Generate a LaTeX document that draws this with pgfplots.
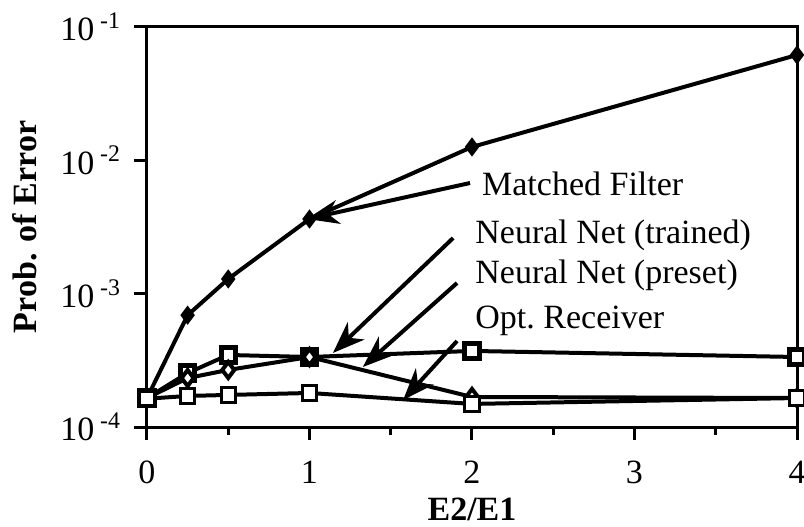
\documentclass[border=0pt]{standalone}
\usepackage{fontspec}
\setmainfont{Liberation Serif}
\usepackage{pgfplots}
\pgfplotsset{compat=1.18}
\usetikzlibrary{arrows.meta}
\begin{document}
\begin{tikzpicture}
\begin{axis}[
  name=ax,
  scale only axis, width=325pt, height=200pt,
  xmin=0, xmax=4, ymin=1e-4, ymax=1e-1, ymode=log,
  clip=false,
  axis line style={line width=1.5pt},
  tick style={line width=1.5pt, black},
  major tick length=6.5pt, minor tick length=4pt,
  tick align=outside,
  xtick pos=bottom, ytick pos=left,
  xtick={0,1,2,3,4}, minor xtick={0.5,1.5,2.5,3.5},
  ytick={1e-4,1e-3,1e-2,1e-1}, yminorticks=false,
  yticklabels={10\,\textsuperscript{-4},10\,\textsuperscript{-3},10\,\textsuperscript{-2},10\,\textsuperscript{-1}},
  xticklabels={0,1,2,3,4},
  ticklabel style={font=\fontsize{17}{19}\selectfont},
  yticklabel style={xshift=-3pt},
  xticklabel style={yshift=-7pt},
  xlabel={E2/E1}, ylabel={Prob. of Error},
  xlabel style={font=\fontsize{17}{19}\selectfont\bfseries, at={(axis description cs:0.5,0)}, anchor=base, yshift=-46.5pt},
  ylabel style={font=\fontsize{17}{19}\selectfont\bfseries, at={(axis description cs:-0.1877,0.5)}, anchor=center},
  every axis plot/.append style={line width=2pt, black},
]
% Matched filter
\addplot[mark=diamond*, mark size=4pt, mark options={fill=black, line width=1pt}] coordinates {
 (0,1.65e-4) (0.25,6.9e-4) (0.5,1.29e-3) (1,3.63e-3) (2,1.26e-2) (4,6.17e-2)};
% Neural net (trained)
\addplot[mark=square*, mark size=3.6pt, mark options={fill=white, line width=2.5pt}] coordinates {
 (0,1.65e-4) (0.25,2.54e-4) (0.5,3.47e-4) (1,3.35e-4) (2,3.72e-4) (4,3.35e-4)};
% Neural net (preset)
\addplot[mark=diamond*, mark size=4pt, mark options={fill=white, line width=2pt}] coordinates {
 (0,1.65e-4) (0.25,2.33e-4) (0.5,2.68e-4) (1,3.35e-4) (2,1.68e-4) (4,1.65e-4)};
% Opt. receiver
\addplot[mark=square*, mark size=3.6pt, mark options={fill=white, line width=1.5pt}] coordinates {
 (0,1.63e-4) (0.25,1.71e-4) (0.5,1.74e-4) (1,1.80e-4) (2,1.49e-4) (4,1.65e-4)};

\draw[line width=2pt, -{Stealth[length=16pt, width=12pt, inset=5pt]}] (rel axis cs:0.497,0.61) -- (rel axis cs:0.246,0.52);
\draw[line width=2pt, -{Stealth[length=16pt, width=12pt, inset=5pt]}] (rel axis cs:0.471,0.4725) -- (rel axis cs:0.286,0.185);
\draw[line width=2pt, -{Stealth[length=16pt, width=12pt, inset=5pt]}] (rel axis cs:0.477,0.36) -- (rel axis cs:0.332,0.15);
\draw[line width=2pt, -{Stealth[length=16pt, width=12pt, inset=5pt]}] (rel axis cs:0.477,0.215) -- (rel axis cs:0.394,0.0675);

\node[anchor=base west, inner sep=0pt, font=\fontsize{17}{19}\selectfont] at (rel axis cs:0.515,0.58) {Matched Filter};
\node[anchor=base west, inner sep=0pt, font=\fontsize{17}{19}\selectfont] at (rel axis cs:0.5046,0.46) {Neural Net (trained)};
\node[anchor=base west, inner sep=0pt, font=\fontsize{17}{19}\selectfont] at (rel axis cs:0.5046,0.36) {Neural Net (preset)};
\node[anchor=base west, inner sep=0pt, font=\fontsize{17}{19}\selectfont] at (rel axis cs:0.5046,0.2475) {Opt.\ Receiver};
\end{axis}
\pgfresetboundingbox
\path[use as bounding box] ([shift={(-73.5pt,-49.5pt)}]ax.south west) rectangle ([shift={(328.5pt,213.5pt)}]ax.south west);
\end{tikzpicture}
\end{document}
